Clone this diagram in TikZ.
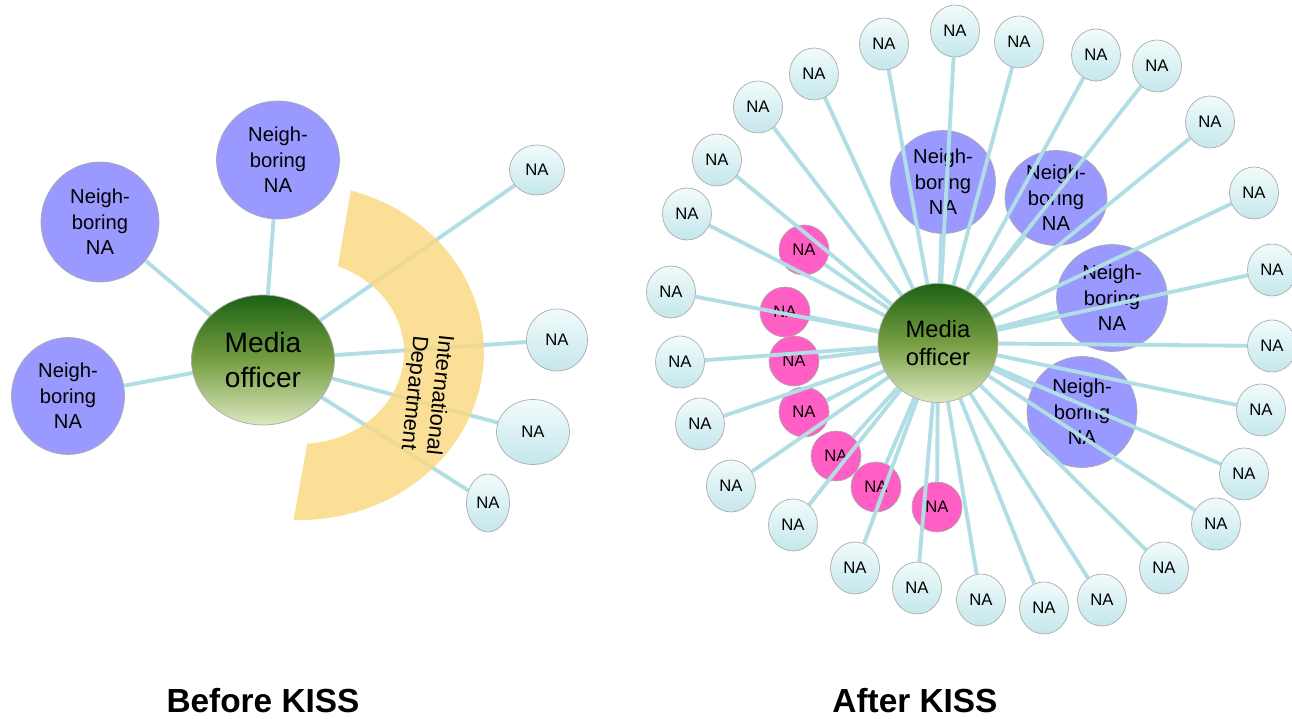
\documentclass[tikz,border=0pt]{standalone}
\usepackage{fontspec}
\setmainfont{Liberation Sans}
\usetikzlibrary{shapes.geometric,backgrounds}
\pgfdeclarelayer{inner}
\pgfsetlayers{inner,background,main}

\definecolor{linkblue}{RGB}{176,222,228}
\definecolor{nbfill}{RGB}{153,153,255}
\definecolor{pinkfill}{RGB}{255,94,196}
\definecolor{bandyellow}{RGB}{250,216,128}
\definecolor{natop}{RGB}{242,251,251}
\definecolor{nabot}{RGB}{196,231,236}
\definecolor{motop}{RGB}{28,98,20}
\definecolor{momid}{RGB}{118,158,66}
\definecolor{mobot}{RGB}{220,232,192}

\begin{document}
\begin{tikzpicture}[x=0.02cm, y=-0.02cm,
    every node/.style={ellipse, inner sep=0pt, draw=gray!65, line width=0.4pt, align=center},
    mo/.style={top color=motop, bottom color=mobot, middle color=momid, font=\fontsize{16}{20}\selectfont},
    nb/.style={fill=nbfill, minimum width=2.3cm, minimum height=2.3cm, font=\fontsize{11.5}{14.5}\selectfont},
    na/.style={top color=natop, bottom color=nabot, minimum width=0.98cm, minimum height=1.04cm, font=\fontsize{9.5}{11}\selectfont},
    pk/.style={fill=pinkfill, minimum width=1.0cm, minimum height=1.0cm, font=\fontsize{9.5}{11}\selectfont},
    link/.style={draw=linkblue, line width=2.2pt},
    title/.style={draw=none, rectangle, anchor=base, font=\fontsize{19}{22}\selectfont\bfseries}]

	\useasboundingbox (0,0) rectangle (1292,719);

	% before
	\node[mo, minimum width=2.86cm, minimum height=2.6cm] (mo) at (263,360) {Media\\officer};
	\node[nb, minimum width=2.46cm, minimum height=2.36cm] (nb1) at (278,160) {Neigh-\\boring\\NA};
	\node[nb, minimum width=2.36cm, minimum height=2.4cm] (nb2) at (100,222) {Neigh-\\boring\\NA};
	\node[nb, minimum width=2.26cm, minimum height=2.34cm] (nb3) at (68,396) {Neigh-\\boring\\NA};
	\node[na, minimum width=1.1cm, minimum height=1.0cm] (na1) at (537,170) {NA};
	\node[na, minimum width=1.22cm, minimum height=1.24cm] (na2) at (557,340) {NA};
	\node[na, minimum width=1.46cm, minimum height=1.3cm] (na3) at (533,432) {NA};
	\node[na, minimum width=0.86cm, minimum height=1.16cm] (na4) at (488,503) {NA};

	\begin{pgfonlayer}{background}
		\foreach \n in {nb1,nb2,nb3,na1,na2,na3,na4}
			\draw[link] (mo) -- (\n);
		\fill[bandyellow, fill opacity=0.82]
			plot[domain=74:-92, samples=60] ({300+184*cos(\x)},{352-168*sin(\x)})
			-- plot[domain=-86:68.6, samples=60] ({300+104*cos(\x)},{352-92*sin(\x)}) -- cycle;
	\end{pgfonlayer}
	\node[draw=none, rectangle, rotate=-96, font=\fontsize{12.5}{14.5}\selectfont] (intl) at (426,394) {International\\Department};

	% after
	\node[mo, minimum width=2.4cm, minimum height=2.38cm, font=\fontsize{13.5}{16}\selectfont] (mo2) at (938,343) {Media\\officer};
	\begin{pgfonlayer}{inner}
		\node[nb, minimum width=2.1cm, minimum height=2.06cm] (nb4) at (943,182) {Neigh-\\boring\\NA};
		\node[nb, minimum width=2.04cm, minimum height=1.9cm] (nb5) at (1056,198) {Neigh-\\boring\\NA};
		\node[nb, minimum width=2.22cm, minimum height=2.14cm] (nb6) at (1112,298) {Neigh-\\boring\\NA};
		\node[nb, minimum width=2.2cm, minimum height=2.22cm] (nb7) at (1082,412) {Neigh-\\boring\\NA};
		\foreach \x/\y [count=\i] in {804/250, 785/312, 794/361, 804/412, 836/456, 876/487, 937/507}
			\node[pk] (pk\i) at (\x,\y) {NA};
	\end{pgfonlayer}
	\foreach \x/\y [count=\i] in {884/44, 955/31, 1019/42, 1096/55, 1157/66, 1210/122, 1254/193,
			1272/270, 1272/346, 1261/410, 1244/474, 1216/524, 1164/568, 1102/600, 1044/608,
			981/600, 917/588, 855/568, 793/525, 731/486, 700/424, 680/362, 671/292, 687/214,
			717/160, 758/107, 814/74}
		\node[na] (o\i) at (\x,\y) {NA};

	\begin{pgfonlayer}{background}
		\foreach \n in {nb4,nb5,nb6,nb7,pk1,pk2,pk3,pk4,pk5,pk6,pk7}
			\draw[link] (mo2) -- (\n);
		\foreach \i in {1,...,27}
			\draw[link] (mo2) -- (o\i);
	\end{pgfonlayer}

	\node[title] (before) at (263,712) {Before KISS};
	\node[title] (after) at (915,712) {After KISS};

\end{tikzpicture}
\end{document}
